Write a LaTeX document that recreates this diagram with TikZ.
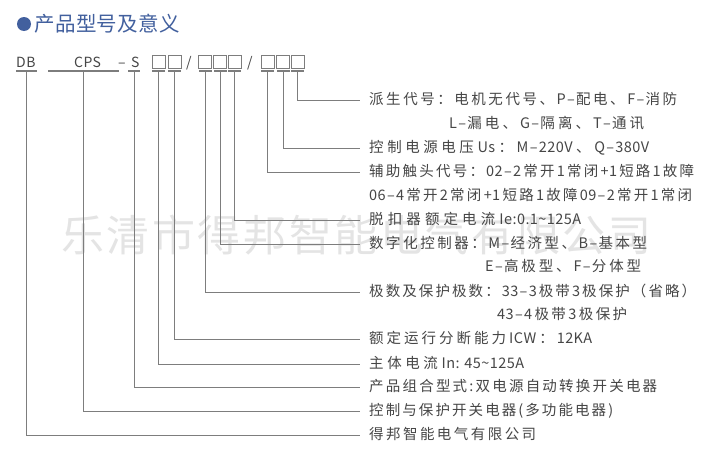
\documentclass[tikz,border=0pt]{standalone}
\usepackage{fontspec}
\setmainfont[LetterSpace=3]{Noto Sans CJK SC}
\XeTeXinterchartokenstate=1
\newXeTeXintercharclass\cjkclass
\newcount\cjkcnt
\cjkcnt="4E00
\loop\ifnum\cjkcnt<"9FFF
  \XeTeXcharclass\cjkcnt=\cjkclass
  \advance\cjkcnt by 1
\repeat
\XeTeXcharclass"3001=\cjkclass
\XeTeXcharclass"FF1A=\cjkclass
\XeTeXinterchartoks\cjkclass\cjkclass={\hskip 0pt plus 1fil\relax}
\XeTeXinterchartoks\cjkclass 0={\hskip 0pt plus 1fil\relax}
\XeTeXinterchartoks 0 \cjkclass={\hskip 0pt plus 1fil\relax}
\newcommand{\fitline}[2]{\hbox to #1pt{#2}}
\newcommand{\dd}{\kern1.3pt–\kern1.3pt}
\newcommand{\tld}{\textasciitilde}
\definecolor{ink}{RGB}{70,70,70}
\definecolor{rule}{RGB}{125,125,125}
\definecolor{headblue}{RGB}{66,96,158}
\definecolor{wm}{RGB}{228,228,228}
\tikzset{
  lbl/.style={anchor=west,inner xsep=9pt,inner ysep=0pt,text height=11pt,text depth=3pt,text=ink,font=\fontsize{14.5}{16}\selectfont},
  cont/.style={lbl,inner xsep=0pt},
  code/.style={anchor=base west,inner sep=0pt,text=ink,font=\fontsize{14}{16}\selectfont},
  cell/.style={draw=rule,line width=0.9pt,minimum width=13pt,minimum height=13pt,inner sep=0pt},
  under/.style={fill=rule,inner sep=0pt,minimum height=1.2pt},
  conn/.style={draw=rule,line width=0.9pt},
}
\begin{document}
\begin{tikzpicture}[x=1pt,y=-1pt]
\path[use as bounding box,fill=white] (0,0) rectangle (708,455);
\node[anchor=west,inner sep=0pt,text=wm,font=\fontsize{43}{46}\selectfont] (mark) at (61,235) {\fitline{590}{乐清市得邦智能电气有限公司}};
\node[circle,fill=headblue,minimum size=14pt,inner sep=0pt] (dot) at (24,24) {};
\node[anchor=west,inner sep=0pt,text=headblue,font=\fontsize{20.5}{24}\selectfont] (title) at (34,24) {\fitline{146}{产品型号及意义}};
\node[code] (cDB) at (16,67) {DB};
\node[code] (cCPS) at (74,67) {CPS};
\node[code] (cdash) at (118,67) {–};
\node[code] (cS) at (131,67) {S};
\node[code] (cs1) at (186,67) {/};
\node[code] (cs2) at (247,67) {/};
\node[cell] (b1) at (158.5,62) {};
\node[cell] (b2) at (174.5,62) {};
\node[cell] (b3) at (204.5,62) {};
\node[cell] (b4) at (220,62) {};
\node[cell] (b5) at (235,62) {};
\node[cell] (b6) at (267.5,62) {};
\node[cell] (b7) at (283,62) {};
\node[cell] (b8) at (298,62) {};
\foreach \n/\x/\w in {uDB/26/21,uCPS/83/71,uS/134/12,u1/158/13,u2/174/13,u3/205/13,u4/220/13,u5/234.5/13,u6/267/13,u7/283/13,u8/297.5/13}{
  \node[under,minimum width=\w pt] (\n) at (\x,71) {};
}
\node[lbl] (t1) at (360,100) {\fitline{308}{派生代号：电机无代号、P\dd 配电、F\dd 消防}};
\node[cont] (t1b) at (449,124) {\fitline{195}{L\dd 漏电、G\dd 隔离、T\dd 通讯}};
\node[lbl] (t2) at (360,148) {\fitline{280}{控制电源电压Us：M\dd 220V、Q\dd 380V}};
\node[lbl] (t3) at (360,172) {\fitline{325}{辅助触头代号：02\dd 2常开1常闭+1短路1故障}};
\node[cont] (t3b) at (369,196) {\fitline{323}{06\dd 4常开2常闭+1短路1故障09\dd 2常开1常闭}};
\node[lbl] (t4) at (360,220) {\fitline{212}{脱扣器额定电流Ie:0.1\tld 125A}};
\node[lbl] (t5) at (360,244) {\fitline{278}{数字化控制器：M\dd 经济型、B\dd 基本型}};
\node[cont] (t5b) at (485,267.5) {\fitline{156}{E\dd 高极型、F\dd 分体型}};
\node[lbl] (t6) at (360,292) {\fitline{327}{极数及保护极数：33\dd 3极带3极保护（省略）}};
\node[cont] (t6b) at (497,315.5) {\fitline{130}{43\dd 4极带3极保护}};
\node[lbl] (t7) at (360,339.5) {\fitline{223}{额定运行分断能力ICW：12KA}};
\node[lbl] (t8) at (360,364) {\fitline{155}{主体电流In: 45\tld 125A}};
\node[lbl] (t9) at (360,387) {\fitline{288}{产品组合型式:双电源自动转换开关电器}};
\node[lbl] (t10) at (360,411.5) {\fitline{244}{控制与保护开关电器(多功能电器)}};
\node[lbl] (t11) at (360,435) {\fitline{167}{得邦智能电气有限公司}};
\draw[conn] (u8.south) |- (t1.west);
\draw[conn] (u7.south) |- (t2.west);
\draw[conn] (u6.south) |- (t3.west);
\draw[conn] (u5.south) |- (t4.west);
\draw[conn] (u4.south) |- (t5.west);
\draw[conn] (u3.south) |- (t6.west);
\draw[conn] (u2.south) |- (t7.west);
\draw[conn] (u1.south) |- (t8.west);
\draw[conn] (uS.south) |- (t9.west);
\draw[conn] (uCPS.south) |- (t10.west);
\draw[conn] (uDB.south) |- (t11.west);
\end{tikzpicture}
\end{document}
